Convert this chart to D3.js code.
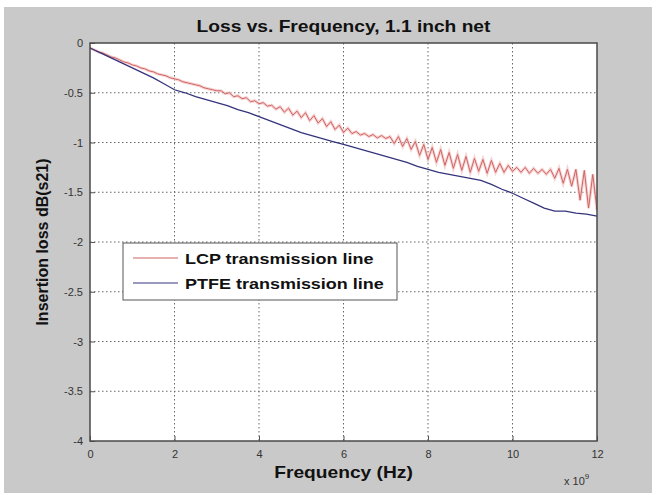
<!DOCTYPE html>
<html>
<head>
<meta charset="utf-8">
<script src="https://d3js.org/d3.v7.min.js"></script>
<style>
  body { margin: 0; background: #fff; overflow: hidden; }
  text { font-family: "Liberation Sans", Arial, sans-serif; }
</style>
</head>
<body>
<svg width="656" height="493"></svg>
<script>
// DATA ========================================================
const xTicks = [0, 2, 4, 6, 8, 10, 12];            // GHz (x 10^9 Hz)
const yTicks = [0, -0.5, -1, -1.5, -2, -2.5, -3, -3.5, -4];

// PTFE line, every 0.25 GHz
const ptfeFreq = d3.range(0, 12.001, 0.25);
const ptfeLoss = [-0.05, -0.10, -0.15, -0.20, -0.25, -0.30, -0.35, -0.41, -0.47,
  -0.50, -0.54, -0.57, -0.60, -0.63, -0.67, -0.70, -0.74, -0.78, -0.82, -0.86,
  -0.90, -0.93, -0.96, -0.99, -1.02, -1.05, -1.08, -1.11, -1.14, -1.17, -1.20,
  -1.24, -1.27, -1.30, -1.32, -1.34, -1.36, -1.38, -1.42, -1.47, -1.51, -1.56,
  -1.61, -1.66, -1.69, -1.69, -1.71, -1.72, -1.74];

// LCP line, every 0.1 GHz
const lcpFreq = d3.range(0, 12.001, 0.1);
const lcpLoss = [-0.05, -0.07, -0.09, -0.10, -0.12, -0.14, -0.15, -0.17, -0.19, -0.20,
  -0.22, -0.23, -0.25, -0.26, -0.28, -0.29, -0.31, -0.32, -0.33, -0.35,
  -0.36, -0.37, -0.39, -0.40, -0.41, -0.42, -0.43, -0.45, -0.46, -0.47,
  -0.48, -0.48, -0.51, -0.50, -0.54, -0.53, -0.56, -0.55, -0.59, -0.58,
  -0.61, -0.60, -0.635, -0.625, -0.665, -0.64, -0.695, -0.655, -0.725, -0.685,
  -0.75, -0.70, -0.78, -0.73, -0.805, -0.76, -0.84, -0.79, -0.87, -0.825,
  -0.90, -0.855, -0.91, -0.89, -0.925, -0.91, -0.94, -0.92, -0.955, -0.93,
  -0.96, -0.94, -1.01, -0.94, -1.04, -0.96, -1.07, -0.99, -1.13, -1.02,
  -1.17, -1.05, -1.20, -1.07, -1.23, -1.10, -1.26, -1.12, -1.28, -1.14,
  -1.30, -1.16, -1.29, -1.17, -1.31, -1.18, -1.30, -1.21, -1.30, -1.23,
  -1.29, -1.25, -1.30, -1.25, -1.31, -1.26, -1.31, -1.27, -1.32, -1.27,
  -1.36, -1.26, -1.41, -1.27, -1.44, -1.27, -1.58, -1.28, -1.66, -1.32,
  -1.68];

const legendNames = ["LCP transmission line", "PTFE transmission line"];
const lineColors = ["#d06464", "#34347c"];

// LAYOUT ======================================================
const svg = d3.select("svg");
const W = 656, H = 493;
const plot = { left: 90, right: 597, top: 43, bottom: 441 };
const stretch = 1.2;   // the picture's lettering is wider than tall

svg.append("rect").attr("width", W).attr("height", H).attr("fill", "#fff");
svg.append("rect").attr("x", 4).attr("y", 7).attr("width", W - 8).attr("height", H - 7)
  .attr("fill", "#c9c9c9");

const x = d3.scaleLinear().domain([0, 12]).range([plot.left, plot.right]);
const y = d3.scaleLinear().domain([-4, 0]).range([plot.bottom, plot.top]);

svg.append("rect")
  .attr("x", plot.left).attr("y", plot.top)
  .attr("width", plot.right - plot.left).attr("height", plot.bottom - plot.top)
  .attr("fill", "#fff");

// GRID ========================================================
const grid = svg.append("g").attr("stroke", "#666").attr("stroke-width", 1)
  .attr("stroke-dasharray", "1.5,2.5");
grid.selectAll("line.v").data(xTicks.slice(1, -1)).join("line")
  .attr("x1", d => x(d)).attr("x2", d => x(d))
  .attr("y1", plot.top).attr("y2", plot.bottom);
grid.selectAll("line.h").data(yTicks.slice(1, -1)).join("line")
  .attr("y1", d => y(d)).attr("y2", d => y(d))
  .attr("x1", plot.left).attr("x2", plot.right);

// AXES ========================================================
const xAxis = svg.append("g").attr("transform", `translate(0,${plot.bottom})`)
  .call(d3.axisBottom(x).tickValues(xTicks).tickFormat(d => String(d)).tickSizeInner(-5).tickSizeOuter(0).tickPadding(9));
const yAxis = svg.append("g").attr("transform", `translate(${plot.left},0)`)
  .call(d3.axisLeft(y).tickValues(yTicks).tickFormat(d => String(d)).tickSizeInner(-5).tickSizeOuter(0).tickPadding(7));
[xAxis, yAxis].forEach(a => {
  a.select(".domain").remove();
  a.selectAll(".tick line").attr("stroke", "#555");
  a.selectAll(".tick text").attr("fill", "#333").style("font-size", "11px");
});

// LINES =======================================================
const line = d3.line().x(d => x(d[0])).y(d => y(d[1]));
const lcpPts = lcpFreq.map((f, i) => [f, lcpLoss[i]]);
const ptfePts = ptfeFreq.map((f, i) => [f, ptfeLoss[i]]);

svg.append("path").datum(lcpPts).attr("d", line)
  .attr("fill", "none").attr("stroke", "#f2c0c0").attr("stroke-width", 3).attr("opacity", 0.7);
svg.append("path").datum(lcpPts).attr("d", line)
  .attr("fill", "none").attr("stroke", lineColors[0]).attr("stroke-width", 1);
svg.append("path").datum(ptfePts).attr("d", line)
  .attr("fill", "none").attr("stroke", lineColors[1]).attr("stroke-width", 1.3);

// plot frame
svg.append("rect")
  .attr("x", plot.left).attr("y", plot.top)
  .attr("width", plot.right - plot.left).attr("height", plot.bottom - plot.top)
  .attr("fill", "none").attr("stroke", "#4a4a4a").attr("stroke-width", 1.5);

// LEGEND ======================================================
const lg = svg.append("g").attr("transform", "translate(123,243)");
lg.append("rect").attr("width", 274).attr("height", 57)
  .attr("fill", "#fff").attr("stroke", "#555").attr("stroke-width", 1);
legendNames.forEach((name, i) => {
  const ry = 15 + i * 25;
  lg.append("line").attr("x1", 10).attr("x2", 55).attr("y1", ry).attr("y2", ry)
    .attr("stroke", lineColors[i]).attr("stroke-width", 1.2);
  lg.append("text").attr("transform", `translate(62,${ry + 5.5}) scale(${stretch},1)`)
    .attr("font-weight", "bold").attr("font-size", 15).attr("fill", "#111").text(name);
});

// TITLES ======================================================
const cx = (plot.left + plot.right) / 2;
svg.append("text").attr("transform", `translate(${cx},32) scale(${stretch},1)`)
  .attr("text-anchor", "middle").attr("font-weight", "bold").attr("font-size", 16)
  .attr("fill", "#111").text("Loss vs. Frequency, 1.1 inch net");

svg.append("text").attr("transform", `translate(${cx},478) scale(${stretch},1)`)
  .attr("text-anchor", "middle").attr("font-weight", "bold").attr("font-size", 16)
  .attr("fill", "#111").text("Frequency (Hz)");

svg.append("text").attr("transform", `translate(48,${(plot.top + plot.bottom) / 2}) rotate(-90)`)
  .attr("text-anchor", "middle").attr("font-weight", "bold").attr("font-size", 16)
  .attr("fill", "#111").text("Insertion loss dB(s21)");

const mult = svg.append("text").attr("x", 564).attr("y", 485)
  .attr("font-size", 11).attr("fill", "#333");
mult.append("tspan").text("x 10");
mult.append("tspan").attr("dy", -6).attr("font-size", 8).text("9");
</script>
</body>
</html>
